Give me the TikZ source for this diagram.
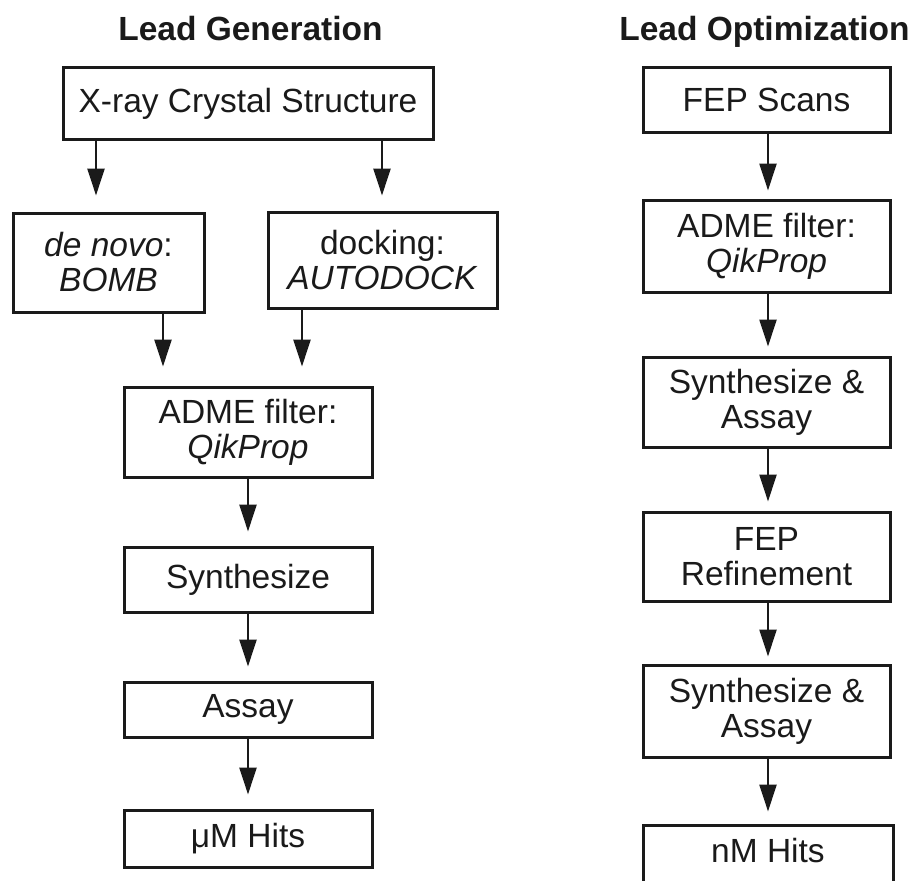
\documentclass[tikz,border=0pt]{standalone}
\usepackage{fontspec}
\setmainfont{Liberation Sans}
\usetikzlibrary{arrows.meta,calc}
\definecolor{ink}{HTML}{1A1A1A}
\begin{document}
\begin{tikzpicture}[x=1pt,y=-1pt,
  box/.style={draw=ink, line width=3pt, rectangle, inner sep=0pt, align=center,
    font=\fontsize{33.5}{35}\selectfont, text=ink},
  arr/.style={draw=ink, line width=2.4pt, -{Triangle[width=17pt,length=27pt]}},
  ttl/.style={font=\fontsize{33.5}{35}\selectfont\bfseries, text=ink, anchor=base, inner sep=0pt}]
\fill[white] (0,0) rectangle (917,880);
\useasboundingbox (0,0) rectangle (917,880);
\clip (0,0) rectangle (917,880);

% titles
\node[ttl] (t1) at (250.5,41) {Lead Generation};
\node[ttl] (t2) at (764.5,41) {Lead Optimization};

% left column
\node[box, minimum width=370pt, minimum height=71pt] (xray) at (248,103.5) {X-ray Crystal Structure};
\node[box, minimum width=191pt, minimum height=99pt] (denovo) at (108.5,262.5) {\textit{de novo}:\\\textit{BOMB}};
\node[box, minimum width=229pt, minimum height=96pt] (docking) at (382.5,260) {docking:\\\textit{AUTODOCK}};
\node[box, minimum width=248pt, minimum height=90pt] (adme1) at (248,432) {ADME filter:\\\textit{QikProp}};
\node[box, minimum width=248pt, minimum height=65pt] (synth1) at (248,579.5) {Synthesize};
\node[box, minimum width=248pt, minimum height=55pt] (assay1) at (248,709.5) {Assay};
\node[box, minimum width=248pt, minimum height=57pt] (hits1) at (248,838.5) {μM Hits};

% right column
\node[box, minimum width=247pt, minimum height=64pt] (fep) at (766.5,100) {FEP Scans};
\node[box, minimum width=247pt, minimum height=92pt] (adme2) at (766.5,246) {ADME filter:\\\textit{QikProp}};
\node[box, minimum width=247pt, minimum height=90pt] (sa1) at (766.5,402) {Synthesize \&\\Assay};
\node[box, minimum width=247pt, minimum height=89pt] (ref) at (766.5,556.5) {FEP\\Refinement};
\node[box, minimum width=247pt, minimum height=92pt] (sa2) at (766.5,711) {Synthesize \&\\Assay};
\node[box, minimum width=250pt, minimum height=70pt, text height=24.5pt, text depth=20.5pt] (nm) at (768,860) {nM Hits};

% x positions of side arrows
\coordinate (xa) at (96,0);
\coordinate (xb) at (382,0);
\coordinate (xc) at (163,0);
\coordinate (xd) at (302,0);
\coordinate (xr) at (768,0);

% left connectors
\draw[arr, shorten >=16pt] (xray.south -| xa) -- (denovo.north -| xa);
\draw[arr, shorten >=15pt] (xray.south -| xb) -- (docking.north -| xb);
\draw[arr, shorten >=19pt] (denovo.south -| xc) -- (adme1.north -| xc);
\draw[arr, shorten >=19pt] (docking.south -| xd) -- (adme1.north -| xd);
\draw[arr, shorten >=14pt] (adme1.south) -- (synth1.north);
\draw[arr, shorten >=14pt] (synth1.south) -- (assay1.north);
\draw[arr, shorten >=14pt] (assay1.south) -- (hits1.north);

% right connectors
\draw[arr, shorten >=8pt] (fep.south -| xr) -- (adme2.north -| xr);
\draw[arr, shorten >=9pt] (adme2.south -| xr) -- (sa1.north -| xr);
\draw[arr, shorten >=9pt] (sa1.south -| xr) -- (ref.north -| xr);
\draw[arr, shorten >=7pt] (ref.south -| xr) -- (sa2.north -| xr);
\draw[arr, shorten >=12pt] (sa2.south -| xr) -- (nm.north -| xr);
\end{tikzpicture}
\end{document}
